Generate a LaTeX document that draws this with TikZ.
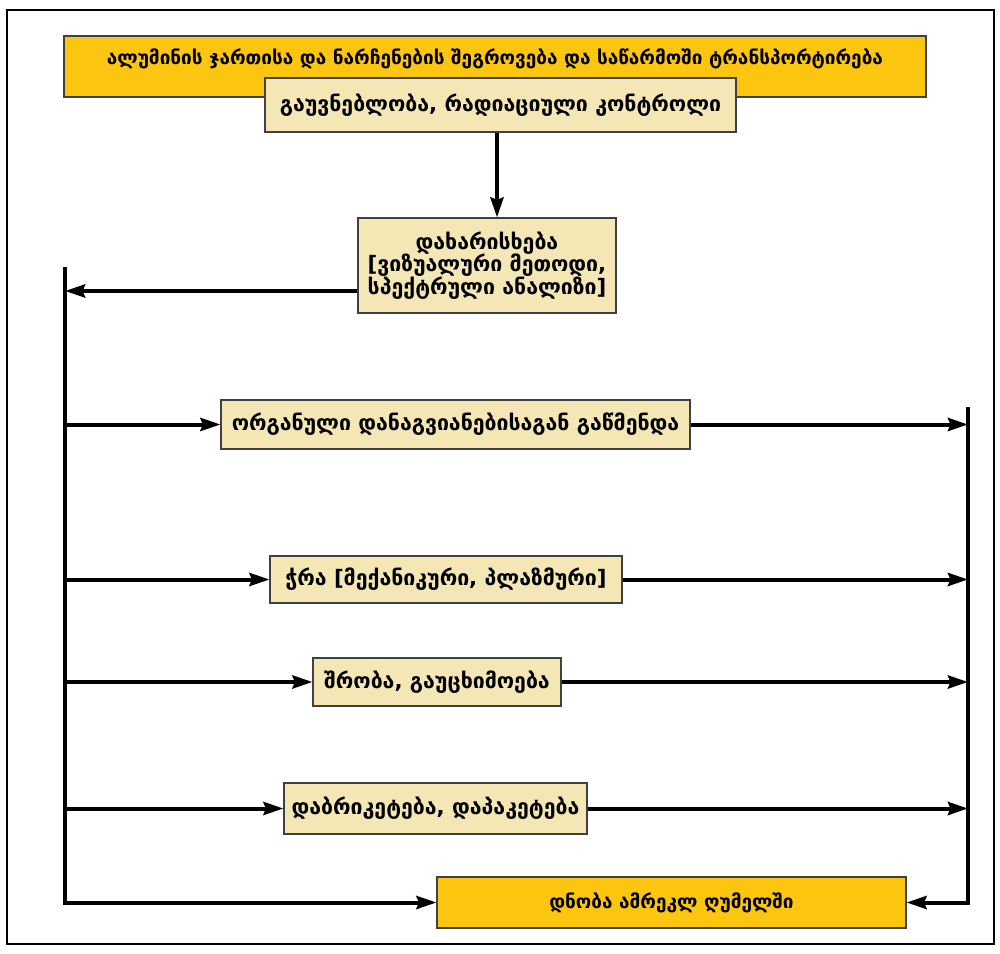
\documentclass[tikz,border=0pt]{standalone}
\usepackage{fontspec}
\newfontfamily\geo{DejaVu Sans}
\usepackage{tikz}
\usetikzlibrary{arrows.meta,positioning,calc}
\definecolor{boxgold}{RGB}{252,198,16}
\definecolor{boxcream}{RGB}{245,230,182}

\begin{document}
\begin{tikzpicture}[
    x=0.2mm, y=-0.2mm,
    goldbox/.style={draw=black!75, line width=0.6pt, fill=boxgold, inner sep=0pt, align=center, font=\geo\bfseries\fontsize{10.8}{12}\selectfont},
    creambox/.style={draw=black!75, line width=0.6pt, fill=boxcream, inner sep=0pt, align=center, font=\geo\bfseries\fontsize{12.1}{13}\selectfont},
    arr/.style={-{Stealth[length=0.4cm, width=0.26cm, inset=0.05cm]}, line width=0.08cm}
]
\useasboundingbox (0,0) rectangle (1000,954);
\draw[line width=0.05cm] (7,10) rectangle (994,944);

\node[goldbox, minimum width=17.24cm, minimum height=1.22cm, text depth=0.4cm] (sheg) at (495,66.5) {ალუმინის ჯართისა და ნარჩენების შეგროვება და საწარმოში ტრანსპორტირება};
\node[creambox, minimum width=9.42cm, minimum height=1.08cm] (gauv) at (500.5,105) {გაუვნებლობა, რადიაციული კონტროლი};
\node[creambox, minimum width=5.16cm, minimum height=1.9cm] (dax) at (487,265.5) {დახარისხება\\{[}ვიზუალური მეთოდი,\\სპექტრული ანალიზი{]}};
\node[creambox, minimum width=9.38cm, minimum height=0.98cm] (gatsm) at (455.5,424.5) {ორგანული დანაგვიანებისაგან გაწმენდა};
\node[creambox, minimum width=7.04cm, minimum height=0.94cm] (chra) at (446,579.5) {ჭრა {[}მექანიკური, პლაზმური{]}};
\node[creambox, minimum width=4.96cm, minimum height=0.96cm] (shrob) at (437,682) {შრობა, გაუცხიმოება};
\node[creambox, minimum width=6.06cm, minimum height=1.02cm] (dabr) at (435.5,808.5) {დაბრიკეტება, დაპაკეტება};
\node[goldbox, minimum width=9.38cm, minimum height=1.02cm] (dnoba) at (671.5,902.5) {დნობა ამრეკლ ღუმელში};

\coordinate (ltop) at (65,267);
\coordinate (rtop) at (968,407);

% main flow
\draw[arr] ([xshift=-0.07cm]gauv.south) -- ([xshift=-0.07cm]gauv.south |- dax.north);
\draw[arr] ([yshift=-0.51cm]dax.west) -- ([yshift=-0.51cm]dax.west -| ltop);
\draw[arr] (ltop) -- (ltop |- dnoba.west) -- (dnoba.west);
\draw[arr] (rtop) -- (rtop |- dnoba.east) -- (dnoba.east);

% branches
\foreach \st in {gatsm,chra,shrob,dabr}{
  \draw[arr] (\st.west -| ltop) -- (\st.west);
  \draw[arr] (\st.east) -- (\st.east -| rtop);
}
\end{tikzpicture}
\end{document}
